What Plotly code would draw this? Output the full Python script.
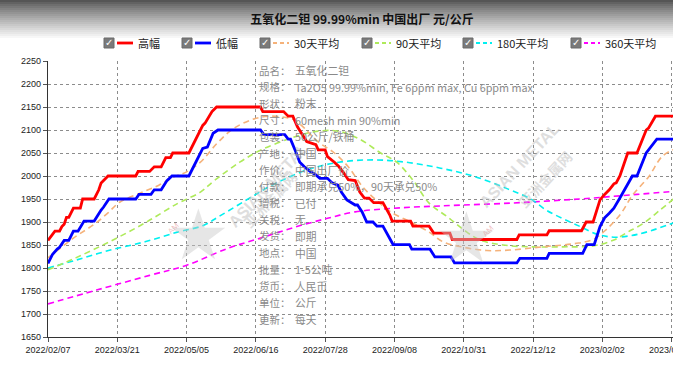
import plotly.graph_objects as go

# ---------------- data ----------------
TITLE = "五氧化二钽 99.99%min 中国出厂 元/公斤"
TICK_LABELS = ["2022/02/07", "2022/03/21", "2022/05/05", "2022/06/16", "2022/07/28",
               "2022/09/08", "2022/10/31", "2022/12/12", "2023/02/02", "2023/03/16"]
TICK_INDEX = [0, 30, 60, 90, 120, 150, 180, 210, 240, 270]

HIGH_X = [0, 2, 3, 5, 6, 7, 8, 9, 11, 14, 15, 20, 22, 23, 26, 38, 39, 44, 46, 49, 51, 53, 54, 61,
          65, 67, 68, 71, 73, 92, 93, 102, 104, 106, 108, 110, 112, 116, 117, 120, 121, 124, 126,
          128, 130, 133, 135, 137, 139, 141, 145, 148, 149, 157, 158, 165, 167, 174, 175, 203, 204,
          216, 217, 231, 233, 236, 239, 241, 243, 245, 246, 247.6, 251, 255, 259, 260, 263, 272]
HIGH_Y = [1860, 1875, 1880, 1880, 1890, 1895, 1910, 1910, 1930, 1930, 1950, 1950, 1970, 1985, 2000,
          2000, 2010, 2010, 2020, 2020, 2040, 2040, 2050, 2050, 2090, 2110, 2115, 2140, 2150, 2150,
          2140, 2140, 2130, 2130, 2107, 2090, 2075, 2068, 2057, 2057, 2042, 2030, 2020, 2007, 1992,
          1990, 1965, 1952, 1952, 1942, 1942, 1915, 1902, 1902, 1891, 1891, 1876, 1876, 1862, 1862,
          1872, 1872, 1881, 1881, 1900, 1900, 1948, 1960, 1970, 1983, 1985, 2000, 2050, 2050, 2100,
          2104, 2130, 2130]

LOW_X = [0, 2, 4, 5, 7, 9, 11, 13, 15.6, 20, 23, 24, 26.4, 38, 39.4, 44.6, 46, 49, 51.5, 53.7, 61,
         66, 67, 69, 71.5, 73.6, 92, 93.5, 102.5, 104, 105, 107, 109, 111, 113.4, 115.6, 117.7, 121,
         123, 125.5, 127, 129.4, 133, 134, 136, 138, 140.7, 142.4, 145, 149.4, 156.5, 157.5, 165.4,
         167.5, 174.5, 176, 203, 204.3, 216, 217, 231.5, 233.3, 236.5, 239, 241, 243, 245, 247.6,
         250, 253, 255, 259, 263.6, 272]
LOW_Y = [1810, 1830, 1841, 1845, 1860, 1860, 1880, 1880, 1902, 1902, 1926, 1932, 1950, 1950, 1960,
         1960, 1970, 1970, 1990, 2000, 2000, 2050, 2060, 2063, 2093, 2100, 2100, 2090, 2090, 2080,
         2080, 2056, 2030, 2020, 2010, 2004, 1995, 1995, 1985, 1980, 1965, 1948, 1937, 1937, 1922,
         1900, 1900, 1891, 1891, 1851, 1851, 1841, 1841, 1824, 1824, 1811, 1811, 1821, 1821, 1832,
         1832, 1851, 1851, 1890, 1909, 1919, 1930, 1952, 1974, 2000, 2000, 2050, 2080, 2080]

MA30_X = [0, 11, 20, 26, 31, 40, 48, 54, 60, 66, 73, 80, 88, 95, 103, 107, 111, 117, 124, 130, 136,
          142, 149, 157, 165, 171, 180, 190, 200, 214, 228, 236, 242, 248, 253, 260, 266, 272]
MA30_Y = [1822, 1865, 1895, 1920, 1943, 1963, 1980, 1997, 2009, 2030, 2070, 2102, 2122, 2130, 2127,
          2121, 2104, 2074, 2050, 2020, 1978, 1948, 1920, 1900, 1878, 1857, 1845, 1838, 1839, 1846,
          1853, 1862, 1885, 1918, 1958, 1998, 2043, 2060]

MA90_X = [0, 12, 27, 42, 56, 66, 72, 83, 92, 105, 115, 125, 135, 144, 151, 158, 165, 173, 180, 187,
          197, 209, 223, 236, 245, 251, 258, 265, 272]
MA90_Y = [1796, 1822, 1858, 1898, 1940, 1965, 1990, 2030, 2056, 2082, 2096, 2098, 2080, 2050, 2030,
          1991, 1941, 1911, 1883, 1861, 1850, 1846, 1846, 1848, 1861, 1878, 1898, 1926, 1955]

MA180_X = [0, 12, 27, 42, 56, 67, 75, 90, 97, 112, 126, 141, 155, 170, 184, 199, 209, 216, 230, 238,
           245, 252, 259, 272]
MA180_Y = [1800, 1817, 1839, 1857, 1878, 1892, 1915, 1960, 1980, 2013, 2030, 2035, 2030, 2017, 2000,
           1972, 1950, 1925, 1891, 1873, 1867, 1870, 1878, 1900]

MA360_X = [0, 21, 44, 60, 78, 92, 107, 121, 133, 150, 170, 200, 230, 255, 272]
MA360_Y = [1722, 1752, 1784, 1806, 1843, 1865, 1889, 1908, 1922, 1930, 1935, 1941, 1950, 1960, 1967]

INFO_LABELS = ["品名：", "规格：", "形状：", "尺寸：", "包装：", "产地：", "作价：", "付款：",
               "增税：", "关税：", "发货：", "地点：", "批量：", "货币：", "单位：", "更新："]
INFO_VALUES = ["五氧化二钽", "Ta2O5 99.99%min, Fe 6ppm max, Cu 6ppm max", "粉末",
               "60mesh min 90%min", "50公斤/铁桶", "中国", "中国出厂价", "即期承兑50%，90天承兑50%",
               "已付", "无", "即期", "中国", "1-5公吨", "人民币", "公斤", "每天"]

SERIES_NAMES = ["高幅", "低幅", "30天平均", "90天平均", "180天平均", "360天平均"]
SERIES_COLORS = ["#ff0000", "#0000ff", "#f5b27a", "#aeea5a", "#00f0f0", "#ff00ff"]

# ---------------- geometry ----------------
W, H = 673, 368
L, R, T, B = 48, 0, 61, 31
PW, PH = W - L - R, H - T - B
XMAX = 270.6


def px(x):
    return (x - L) / PW


def py(y):
    return (H - B - y) / PH


CJK = "Microsoft YaHei, Noto Sans CJK SC, sans-serif"

fig = go.Figure()

series = [(HIGH_X, HIGH_Y, "solid", 2.8), (LOW_X, LOW_Y, "solid", 2.8),
          (MA30_X, MA30_Y, "6px,4px", 1.6), (MA90_X, MA90_Y, "6px,4px", 1.6),
          (MA180_X, MA180_Y, "6px,4px", 1.6), (MA360_X, MA360_Y, "6px,4px", 1.6)]
order = [5, 4, 3, 2, 1, 0]
for k in order:
    xs, ys, dash, w = series[k]
    fig.add_trace(go.Scatter(
        x=xs, y=ys, mode="lines", name=SERIES_NAMES[k],
        line=dict(color=SERIES_COLORS[k], width=w, dash=dash,
                  shape="linear" if k < 2 else "spline", smoothing=1.0),
        showlegend=False, hoverinfo="skip", cliponaxis=True))

shapes = []
annotations = []

# top gradient band
steps = 20
for s in range(steps):
    y0 = s * 2
    g = int(0x55 + (0xff - 0x55) * (s / (steps - 1)) ** 0.85)
    shapes.append(dict(type="rect", xref="paper", yref="paper",
                       x0=px(0), x1=px(W), y0=py(y0 + 2.2), y1=py(y0),
                       fillcolor=f"rgb({g},{g},{g})", line=dict(width=0), layer="below"))

# watermarks
for (sx, sy, tx, ty) in [(165, 232, 222, 185), (500, 235, 565, 165)]:
    annotations.append(dict(xref="paper", yref="paper", x=px(sx), y=py(sy), text="★",
                            showarrow=False, font=dict(size=70, color="rgba(200,200,200,0.45)")))
    annotations.append(dict(xref="paper", yref="paper", x=px(sx - 2), y=py(sy - 4), text="AM",
                            showarrow=False, textangle=-45,
                            font=dict(size=8, color="rgba(220,120,120,0.45)", family="Arial")))
    annotations.append(dict(xref="paper", yref="paper", x=px(tx), y=py(ty),
                            text="<b>ASIAN METAL</b>", showarrow=False, textangle=-47,
                            font=dict(size=16, color="rgba(190,190,190,0.5)", family="Arial")))
    annotations.append(dict(xref="paper", yref="paper", x=px(tx + 14), y=py(ty + 14),
                            text="<b>亚洲金属网</b>", showarrow=False, textangle=-47,
                            font=dict(size=14, color="rgba(190,190,190,0.5)", family=CJK)))

# info block
for i, (lab, val) in enumerate(zip(INFO_LABELS, INFO_VALUES)):
    yy = 70 + i * 16.6
    annotations.append(dict(xref="paper", yref="paper", x=px(257), y=py(yy), xanchor="left",
                            yanchor="middle", text=lab, showarrow=False,
                            font=dict(size=10.5, color="#8a8a8a", family=CJK)))
    annotations.append(dict(xref="paper", yref="paper", x=px(293), y=py(yy), xanchor="left",
                            yanchor="middle", text=val, showarrow=False,
                            font=dict(size=10.8, color="#8a8a8a", family=CJK)))

# custom legend with check boxes
LEG_BOX = [104, 182, 260, 362, 463, 571]
LEG_Y = 43
for k, bx in enumerate(LEG_BOX):
    shapes.append(dict(type="rect", xref="paper", yref="paper",
                       x0=px(bx), x1=px(bx + 10), y0=py(LEG_Y + 5), y1=py(LEG_Y - 5),
                       fillcolor="#7a7a7a", line=dict(color="#6a6a6a", width=1)))
    annotations.append(dict(xref="paper", yref="paper", x=px(bx + 5), y=py(LEG_Y), text="<b>✓</b>",
                            showarrow=False, xanchor="center", yanchor="middle",
                            font=dict(size=10, color="white", family="DejaVu Sans")))
    shapes.append(dict(type="line", xref="paper", yref="paper",
                       x0=px(bx + 13), x1=px(bx + 29), y0=py(LEG_Y), y1=py(LEG_Y),
                       line=dict(color=SERIES_COLORS[k], width=2.8 if k < 2 else 1.8,
                                 dash="solid" if k < 2 else "4px,3px")))
    annotations.append(dict(xref="paper", yref="paper", x=px(bx + 32), y=py(LEG_Y), xanchor="left",
                            yanchor="middle", text=SERIES_NAMES[k], showarrow=False,
                            font=dict(size=11, color="#222", family=CJK)))

fig.update_layout(
    width=W, height=H,
    margin=dict(l=L, r=R, t=T, b=B, autoexpand=False),
    paper_bgcolor="white", plot_bgcolor="white",
    title=dict(text="<b>" + TITLE + "</b>", x=362 / W, xanchor="center", y=1 - 20 / H,
               yanchor="middle", font=dict(size=12, color="#111", family=CJK)),
    showlegend=False,
    shapes=shapes,
    annotations=annotations,
    xaxis=dict(range=[0, XMAX], tickmode="array", tickvals=TICK_INDEX, ticktext=TICK_LABELS,
               showgrid=True, gridcolor="#8c8c8c", griddash="dot", gridwidth=1,
               showline=True, linecolor="#333", linewidth=1.2, ticks="outside", ticklen=4,
               tickcolor="#555", tickfont=dict(size=9, color="#222", family="Arial"),
               ticklabeloverflow="allow",
               zeroline=False, fixedrange=True, automargin=False),
    yaxis=dict(range=[1650, 2250], tick0=1650, dtick=50,
               showgrid=True, gridcolor="#8c8c8c", griddash="dot", gridwidth=1,
               showline=True, linecolor="#333", linewidth=1.2, ticks="outside", ticklen=4,
               tickcolor="#555", tickfont=dict(size=9, color="#222", family="Arial"),
               ticklabeloverflow="allow",
               zeroline=False, fixedrange=True, automargin=False),
)

fig.write_html(
    "out.html",
    config={"displayModeBar": False},
    post_script="document.body.style.margin='0';document.body.style.padding='0';"
                "document.body.style.overflow='hidden';",
)
